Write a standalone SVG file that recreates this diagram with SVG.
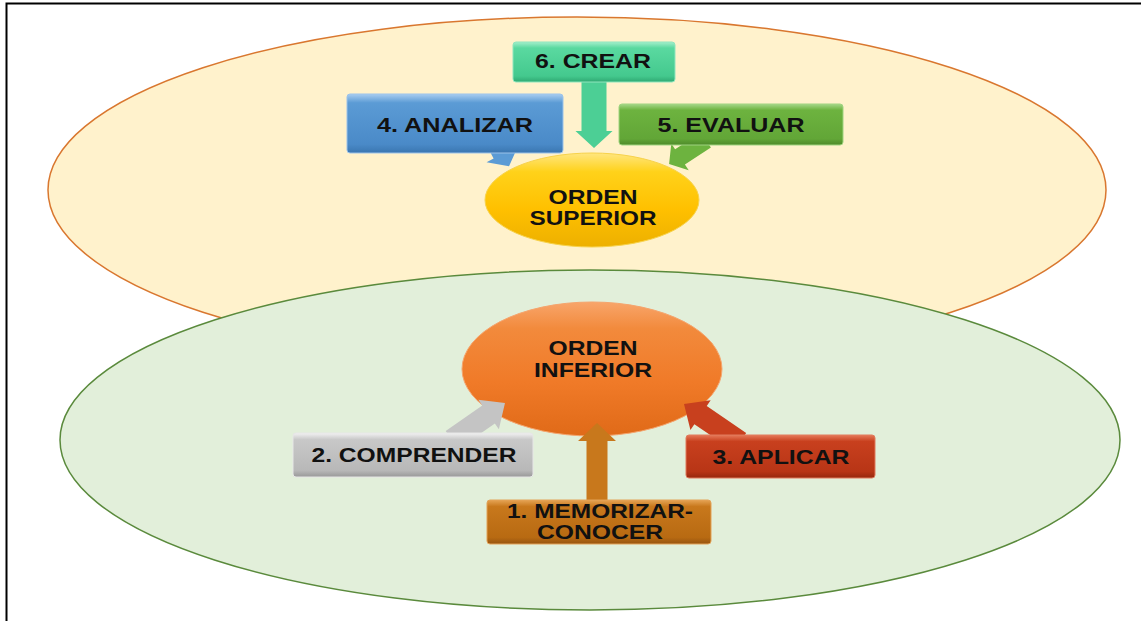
<svg xmlns="http://www.w3.org/2000/svg" width="1141" height="621" viewBox="0 0 1141 621">
  <style>
    .lbl { font-family: "Liberation Sans", Arial, sans-serif; font-weight: bold; font-size: 21px; fill: #111; text-anchor: middle; }
    .box { stroke-width: 1; }
  </style>
  <defs>
    <linearGradient id="gTeal" x1="0" y1="0" x2="0" y2="1">
      <stop offset="0" stop-color="#A4EFCB"/><stop offset="0.15" stop-color="#5AD9A0"/><stop offset="0.85" stop-color="#44C98E"/><stop offset="1" stop-color="#2FA872"/>
    </linearGradient>
    <linearGradient id="gBlue" x1="0" y1="0" x2="0" y2="1">
      <stop offset="0" stop-color="#A9CDF0"/><stop offset="0.15" stop-color="#5B9BD5"/><stop offset="0.85" stop-color="#4A8AC8"/><stop offset="1" stop-color="#3A76B0"/>
    </linearGradient>
    <linearGradient id="gGreen" x1="0" y1="0" x2="0" y2="1">
      <stop offset="0" stop-color="#A6D88A"/><stop offset="0.15" stop-color="#6DB33F"/><stop offset="0.85" stop-color="#62A637"/><stop offset="1" stop-color="#4E8A2A"/>
    </linearGradient>
    <linearGradient id="gGray" x1="0" y1="0" x2="0" y2="1">
      <stop offset="0" stop-color="#F2F2F2"/><stop offset="0.15" stop-color="#C8C8C8"/><stop offset="0.85" stop-color="#B8B8B8"/><stop offset="1" stop-color="#999999"/>
    </linearGradient>
    <linearGradient id="gRed" x1="0" y1="0" x2="0" y2="1">
      <stop offset="0" stop-color="#E67A5A"/><stop offset="0.15" stop-color="#C8401E"/><stop offset="0.85" stop-color="#B83516"/><stop offset="1" stop-color="#96280E"/>
    </linearGradient>
    <linearGradient id="gBrown" x1="0" y1="0" x2="0" y2="1">
      <stop offset="0" stop-color="#E6A455"/><stop offset="0.15" stop-color="#C8781C"/><stop offset="0.85" stop-color="#B86A12"/><stop offset="1" stop-color="#975510"/>
    </linearGradient>
    <linearGradient id="gGold" x1="0" y1="0" x2="0" y2="1">
      <stop offset="0" stop-color="#FFE680"/><stop offset="0.2" stop-color="#FFD21A"/><stop offset="0.6" stop-color="#FFC000"/><stop offset="1" stop-color="#EDB000"/>
    </linearGradient>
    <linearGradient id="gOrange" x1="0" y1="0" x2="0" y2="1">
      <stop offset="0" stop-color="#F8A56A"/><stop offset="0.2" stop-color="#F28A3C"/><stop offset="0.6" stop-color="#F07A28"/><stop offset="1" stop-color="#E06A18"/>
    </linearGradient>
  </defs>

  <rect width="1141" height="621" fill="#FFFFFF"/>
  <path d="M6.5,621 V3.5 H1141" fill="none" stroke="#000" stroke-width="2"/>

  <g id="region-superior">
    <ellipse cx="577" cy="190" rx="529" ry="173" fill="#FFF2CC" stroke="#D9772F" stroke-width="1.5"/>
  </g>
  <g id="region-inferior">
    <ellipse cx="590" cy="440" rx="530" ry="170" fill="#E2EFDA" stroke="#5A8A3C" stroke-width="1.5"/>
  </g>

  <g id="orden-superior">
    <ellipse cx="592" cy="200" rx="107" ry="47" fill="url(#gGold)" stroke="#F7D24A" stroke-width="1"/>
    <text class="lbl" x="593" y="204" textLength="89" lengthAdjust="spacingAndGlyphs">ORDEN</text>
    <text class="lbl" x="593" y="225" textLength="127" lengthAdjust="spacingAndGlyphs">SUPERIOR</text>
  </g>
  <g id="orden-inferior">
    <ellipse cx="592" cy="369" rx="130" ry="67" fill="url(#gOrange)" stroke="#F5A56E" stroke-width="1"/>
    <text class="lbl" x="593" y="355" textLength="89" lengthAdjust="spacingAndGlyphs">ORDEN</text>
    <text class="lbl" x="593" y="377" textLength="118" lengthAdjust="spacingAndGlyphs">INFERIOR</text>
  </g>

  <g id="connectors">
    <!-- 6. CREAR down -->
    <path transform="translate(594,80) rotate(90)" d="M0,-12.5 L51,-12.5 L51,-18.5 L68,0 L51,18.5 L51,12.5 L0,12.5 Z" fill="#4CCF95"/>
    <!-- 4. ANALIZAR -->
    <path transform="translate(494,138) rotate(62)" d="M0,-10 L18,-10 L18,-18 L32,0 L18,18 L18,10 L0,10 Z" fill="#5B9BD5"/>
    <!-- 5. EVALUAR -->
    <path transform="translate(706,140) rotate(147)" d="M0,-9 L31,-9 L31,-16 L44,0 L31,16 L31,9 L0,9 Z" fill="#6DB33F"/>
    <!-- 2. COMPRENDER -->
    <path transform="translate(452,440) rotate(-34.9)" d="M0,-11 L44.6,-11 L44.6,-18 L64.6,0 L44.6,18 L44.6,11 L0,11 Z" fill="#C4C4C4"/>
    <!-- 3. APLICAR -->
    <path transform="translate(740,442) rotate(-145.8)" d="M0,-11 L47.7,-11 L47.7,-18 L67.7,0 L47.7,18 L47.7,11 L0,11 Z" fill="#C8401E"/>
    <!-- 1. MEMORIZAR -->
    <path transform="translate(597,505) rotate(-90)" d="M0,-10.5 L64,-10.5 L64,-19 L82,0 L64,19 L64,10.5 L0,10.5 Z" fill="#C8781C"/>
  </g>

  <g id="crear">
    <rect class="box" x="513" y="42" width="162" height="40" rx="3" fill="url(#gTeal)" stroke="#8FE6BE"/>
    <text class="lbl" x="593" y="68" textLength="116" lengthAdjust="spacingAndGlyphs">6. CREAR</text>
  </g>
  <g id="analizar">
    <rect class="box" x="347" y="94" width="216" height="59" rx="3" fill="url(#gBlue)" stroke="#9CC3EA"/>
    <text class="lbl" x="455" y="132" textLength="156" lengthAdjust="spacingAndGlyphs">4. ANALIZAR</text>
  </g>
  <g id="evaluar">
    <rect class="box" x="619" y="104" width="224" height="41" rx="3" fill="url(#gGreen)" stroke="#A0D480"/>
    <text class="lbl" x="731" y="132" textLength="147" lengthAdjust="spacingAndGlyphs">5. EVALUAR</text>
  </g>
  <g id="comprender">
    <rect class="box" x="293" y="433" width="240" height="44" rx="3" fill="url(#gGray)" stroke="#E6E6E6"/>
    <text class="lbl" x="414" y="462" textLength="205" lengthAdjust="spacingAndGlyphs">2. COMPRENDER</text>
  </g>
  <g id="aplicar">
    <rect class="box" x="686" y="435" width="189" height="43" rx="3" fill="url(#gRed)" stroke="#E07A5C"/>
    <text class="lbl" x="781" y="464" textLength="137" lengthAdjust="spacingAndGlyphs">3. APLICAR</text>
  </g>
  <g id="memorizar">
    <rect class="box" x="487" y="500" width="224" height="44" rx="3" fill="url(#gBrown)" stroke="#E3A257"/>
    <text class="lbl" x="600" y="518" textLength="186" lengthAdjust="spacingAndGlyphs">1. MEMORIZAR-</text>
    <text class="lbl" x="600" y="539" textLength="126" lengthAdjust="spacingAndGlyphs">CONOCER</text>
  </g>
</svg>
